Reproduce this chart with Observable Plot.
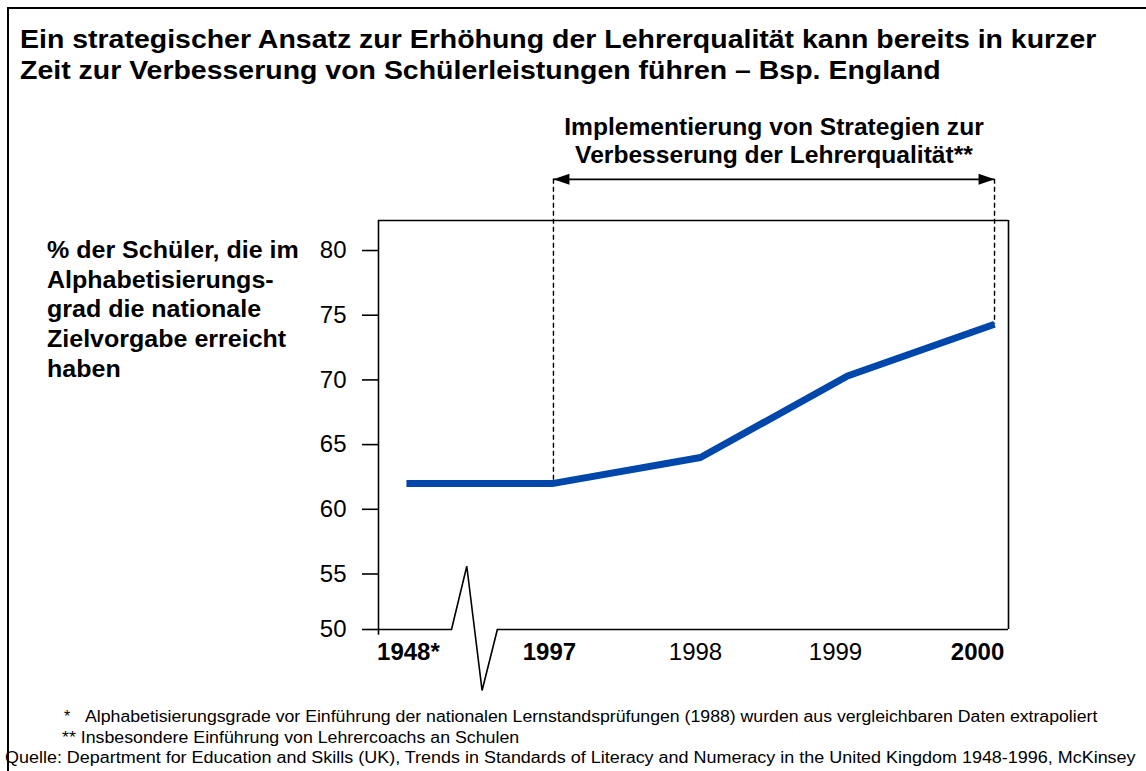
<!DOCTYPE html>
<html><head><meta charset="utf-8">
<script src="https://cdn.jsdelivr.net/npm/d3@7"></script>
<script src="https://cdn.jsdelivr.net/npm/@observablehq/plot@0.6"></script>
<style>
body{margin:0;background:#fff;font-family:"Liberation Sans",Arial,sans-serif;color:#000;}
#page{position:relative;width:1146px;height:771px;overflow:hidden;}
#border{position:absolute;left:7px;top:7px;width:1200px;height:800px;border-top:2px solid #000;border-left:2px solid #000;}
#title{position:absolute;left:20px;top:24px;font-weight:bold;font-size:26px;line-height:31px;white-space:nowrap;transform:scaleX(1.095);transform-origin:0 0;}
#ylabel{position:absolute;left:47px;top:236px;font-weight:bold;font-size:23px;line-height:29.7px;white-space:nowrap;transform:scaleX(1.088);transform-origin:0 0;}
#chart{position:absolute;left:0;top:100px;}
.fn{position:absolute;font-size:16px;white-space:nowrap;line-height:20px;transform-origin:0 0;}
</style></head>
<body>
<div id="page">
  <div id="border"></div>
  <div id="title"></div>
  <div id="ylabel"></div>
  <div id="chart"></div>
  <div class="fn" style="left:64px;top:707px;">*</div>
  <div class="fn" id="fn1" style="left:85px;top:707px;transform:scaleX(1.105);"></div>
  <div class="fn" id="fn2" style="left:62px;top:728px;transform:scaleX(1.11);"></div>
  <div class="fn" id="fn3" style="left:5px;top:748px;transform:scaleX(1.122);"></div>
</div>
<script>
// ---- data ----
const titleLines = ["Ein strategischer Ansatz zur Erhöhung der Lehrerqualität kann bereits in kurzer",
                    "Zeit zur Verbesserung von Schülerleistungen führen – Bsp. England"];
const yLabelLines = ["% der Schüler, die im", "Alphabetisierungs-", "grad die nationale", "Zielvorgabe erreicht", "haben"];
const categories = ["1948*", "1997", "1998", "1999", "2000"];
const values = [62, 62, 64, 70.3, 74.3];
const boldCategories = ["1948*", "1997", "2000"];
const yTicks = [50, 55, 60, 65, 70, 75, 80];
const phaseStart = "1997";
const phaseEnd = "2000";
const annotationText = "Implementierung von Strategien zur\nVerbesserung der Lehrerqualität**";
const footnote1 = "Alphabetisierungsgrade vor Einführung der nationalen Lernstandsprüfungen (1988) wurden aus vergleichbaren Daten extrapoliert";
const footnote2 = "** Insbesondere Einführung von Lehrercoachs an Schulen";
const source = "Quelle: Department for Education and Skills (UK), Trends in Standards of Literacy and Numeracy in the United Kingdom 1948-1996, McKinsey";

document.getElementById("title").innerHTML = titleLines.join("<br>");
document.getElementById("ylabel").innerHTML = yLabelLines.join("<br>");
document.getElementById("fn1").textContent = footnote1;
document.getElementById("fn2").textContent = footnote2;
document.getElementById("fn3").textContent = source;

// ---- scales / layout ----
const xLow = -0.19, xHigh = 4.095;      // index domain (frame edges)
const yLow = 50.71, yHigh = 82.32;      // value domain (frame edges; bottom labelled "50")
const arrowY = 85.5;                    // bracket arrow level above frame
const font = "Liberation Sans, Arial, sans-serif";
const blue = "#0047AB";

const series = categories.map((c, i) => ({i, c, v: values[i]}));
const iStart = categories.indexOf(phaseStart);
const iEnd = categories.indexOf(phaseEnd);

// axis break zig-zag between first two categories
const bc = 0.4625, bw = 0.156;
const breakShape = [
  {x: bc - bw, y: yLow}, {x: bc - bw / 3, y: 55.6}, {x: bc + bw / 3, y: 46.0}, {x: bc + bw, y: yLow}
];

const yTickPos = yTicks.map(t => Math.max(t, yLow));
const yFmt = d => String(yTicks[yTickPos.findIndex(p => Math.abs(p - d) < 1e-9)]);
const xFmt = d => categories[d];

const headRight = {draw(ctx) { ctx.moveTo(0, 0); ctx.lineTo(-16, -5.5); ctx.lineTo(-16, 5.5); ctx.closePath(); }};
const headLeft = {draw(ctx) { ctx.moveTo(0, 0); ctx.lineTo(16, -5.5); ctx.lineTo(16, 5.5); ctx.closePath(); }};

const xAxisMark = (idxs, dx) => Plot.axisX(idxs, {
  tickSize: 0, tickPadding: 13, tickFormat: xFmt, fontSize: 24,
  fontWeight: boldCategories.includes(categories[idxs[0]]) ? "bold" : "normal", dx
});

const chart = Plot.plot({
  width: 1146, height: 600,
  marginLeft: 378, marginRight: 138, marginTop: 120, marginBottom: 71,
  style: {fontFamily: font, fontSize: "24px", color: "#000", background: "transparent", overflow: "visible"},
  x: {type: "linear", domain: [xLow, xHigh], axis: null},
  y: {type: "linear", domain: [yLow, yHigh], axis: null},
  marks: [
    Plot.axisY(yTickPos, {tickSize: 16, tickPadding: 16, tickFormat: yFmt, fontSize: 24, strokeWidth: 1.6}),
    xAxisMark([0], 2),
    xAxisMark([1], -4),
    xAxisMark([2], -5),
    xAxisMark([3], -12),
    xAxisMark([4], -17),
    // frame
    Plot.ruleY([yHigh], {x1: xLow, x2: xHigh, stroke: "#000", strokeWidth: 1.6}),
    Plot.ruleX([xLow], {y1: yLow - 0.45, y2: yHigh, stroke: "#000", strokeWidth: 1.6}),
    Plot.ruleX([xHigh], {y1: yLow, y2: yHigh, stroke: "#000", strokeWidth: 1.6}),
    Plot.ruleY([yLow], {x1: xLow, x2: breakShape[0].x, stroke: "#000", strokeWidth: 1.6}),
    Plot.ruleY([yLow], {x1: breakShape[3].x, x2: xHigh, stroke: "#000", strokeWidth: 1.6}),
    Plot.line(breakShape, {x: "x", y: "y", stroke: "#000", strokeWidth: 1.6, strokeLinejoin: "miter"}),
    // phase bracket
    Plot.ruleX([iStart, iEnd], {y1: arrowY, y2: i => values[i], stroke: "#000", strokeWidth: 1.4, strokeDasharray: "5,3"}),
    Plot.ruleY([arrowY], {x1: iStart, x2: iEnd, stroke: "#000", strokeWidth: 1.6}),
    Plot.dot([iEnd], {x: d => d, y: () => arrowY, symbol: headRight, fill: "#000", stroke: null}),
    Plot.dot([iStart], {x: d => d, y: () => arrowY, symbol: headLeft, fill: "#000", stroke: null}),
    Plot.text([annotationText], {x: () => (iStart + iEnd) / 2, y: () => arrowY, text: d => d,
      lineAnchor: "bottom", dy: -16, fontSize: 24.6, fontWeight: "bold", lineHeight: 1.17, fill: "#000"}),
    // series
    Plot.line(series, {x: "i", y: "v", stroke: blue, strokeWidth: 7, strokeLinejoin: "miter", strokeLinecap: "butt"})
  ]
});
document.getElementById("chart").appendChild(chart);
</script>
</body></html>
